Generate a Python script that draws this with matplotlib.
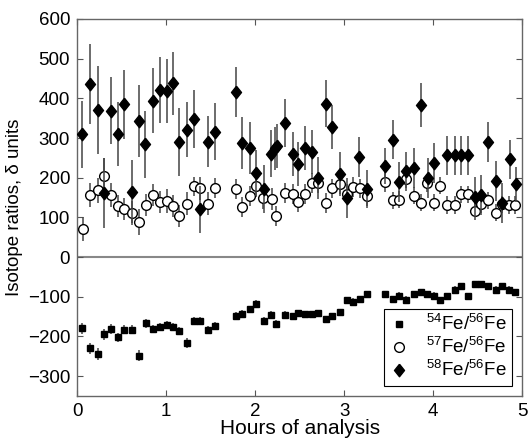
import matplotlib
matplotlib.use("Agg")
import matplotlib.pyplot as plt
import numpy as np

plt.rcParams['font.family'] = ['Liberation Sans', 'DejaVu Sans']
plt.rcParams['mathtext.fontset'] = 'custom'
plt.rcParams['mathtext.rm'] = 'Liberation Sans'
plt.rcParams['mathtext.default'] = 'regular'

# 58Fe/56Fe (filled diamonds)
x58 = [0.06, 0.14, 0.23, 0.30, 0.38, 0.46, 0.53, 0.62, 0.70, 0.76, 0.85, 0.93, 1.01, 1.08,
       1.15, 1.23, 1.31, 1.38, 1.47, 1.55, 1.78, 1.85, 1.94, 2.01, 2.10, 2.18, 2.22, 2.25,
       2.33, 2.42, 2.48, 2.56, 2.64, 2.71, 2.80, 2.86, 2.95, 3.03, 3.17, 3.26, 3.46, 3.55,
       3.62, 3.70, 3.78, 3.86, 3.94, 4.01, 4.16, 4.24, 4.31, 4.39, 4.47, 4.54, 4.62, 4.71,
       4.77, 4.86, 4.93]
y58 = [309, 436, 371, 162, 369, 310, 385, 165, 343, 284, 394, 421, 419, 438,
       290, 321, 348, 120, 291, 316, 416, 288, 275, 212, 172, 261, 274, 280,
       338, 259, 234, 275, 265, 199, 387, 328, 209, 149, 252, 172, 229, 296,
       189, 216, 225, 383, 200, 237, 256, 256, 256, 256, 151, 156, 290, 191,
       136, 246, 183]
e58 = [85, 100, 110, 88, 85, 80, 87, 80, 90, 85, 82, 83, 80, 80,
       85, 70, 72, 60, 65, 72, 62, 65, 65, 58, 60, 60, 55, 55,
       60, 55, 55, 55, 55, 52, 58, 55, 55, 50, 50, 48, 45, 50,
       50, 50, 50, 55, 50, 50, 50, 50, 50, 50, 50, 50, 50, 50,
       50, 50, 45]

# 57Fe/56Fe (open circles)
x57 = [0.07, 0.14, 0.23, 0.30, 0.38, 0.46, 0.53, 0.62, 0.70, 0.77, 0.85, 0.93, 1.01, 1.08,
       1.15, 1.23, 1.31, 1.38, 1.47, 1.55, 1.78, 1.85, 1.94, 2.01, 2.09, 2.19, 2.24, 2.33,
       2.42, 2.48, 2.56, 2.64, 2.71, 2.80, 2.86, 2.95, 3.03, 3.10, 3.18, 3.26, 3.46, 3.55,
       3.62, 3.70, 3.78, 3.86, 3.93, 4.01, 4.08, 4.16, 4.24, 4.31, 4.39, 4.47, 4.54, 4.62,
       4.71, 4.77, 4.85, 4.92]
y57 = [71, 156, 168, 205, 156, 128, 121, 112, 88, 131, 157, 138, 141, 128,
       103, 135, 178, 173, 135, 174, 172, 126, 154, 179, 150, 146, 103, 162,
       160, 138, 158, 187, 187, 137, 173, 183, 160, 177, 173, 154, 189, 143,
       145, 197, 155, 137, 187, 137, 180, 131, 131, 158, 158, 116, 133, 143,
       112, 133, 131, 131]
e57 = [30, 30, 32, 45, 30, 28, 28, 30, 32, 28, 28, 28, 30, 28,
       28, 28, 25, 28, 28, 25, 25, 25, 25, 28, 30, 28, 25, 25,
       25, 25, 25, 25, 25, 25, 25, 25, 25, 25, 25, 25, 25, 22,
       22, 22, 22, 22, 22, 22, 22, 22, 22, 22, 22, 22, 22, 22,
       22, 22, 22, 22]

# 54Fe/56Fe (filled squares)
x54 = [0.06, 0.14, 0.23, 0.30, 0.38, 0.46, 0.53, 0.62, 0.70, 0.77, 0.85, 0.93, 1.01, 1.08,
       1.15, 1.23, 1.31, 1.38, 1.47, 1.55, 1.78, 1.85, 1.94, 2.01, 2.10, 2.18, 2.24, 2.33,
       2.42, 2.48, 2.56, 2.64, 2.71, 2.80, 2.86, 2.95, 3.03, 3.10, 3.18, 3.26, 3.46, 3.55,
       3.62, 3.70, 3.78, 3.86, 3.93, 4.01, 4.08, 4.16, 4.24, 4.31, 4.39, 4.47, 4.54, 4.62,
       4.71, 4.77, 4.85, 4.92]
y54 = [-179, -230, -244, -194, -181, -202, -183, -183, -249, -167, -181, -175, -172, -175,
       -185, -216, -162, -162, -183, -174, -149, -143, -132, -119, -162, -147, -168, -145,
       -149, -141, -143, -143, -141, -157, -149, -139, -109, -112, -105, -94, -94, -105,
       -97, -107, -93, -88, -93, -97, -108, -99, -82, -73, -99, -67, -67, -72,
       -82, -72, -82, -88]
e54 = [14, 14, 14, 14, 12, 12, 12, 12, 14, 12, 10, 10, 10, 10,
       10, 12, 10, 10, 10, 10, 10, 10, 10, 10, 10, 10, 10, 10,
       8, 8, 8, 8, 8, 8, 8, 8, 8, 8, 8, 8, 8, 8,
       8, 8, 8, 8, 8, 8, 8, 8, 8, 8, 8, 8, 8, 8,
       8, 8, 8, 8]

# slightly tall diamond, like the original figure
diamond = [(0, 1), (0.8, 0), (0, -1), (-0.8, 0), (0, 1)]

fig = plt.figure(figsize=(5.28, 4.41), dpi=100)
ax = fig.add_axes([0.146, 0.102, 0.843, 0.855])

ax.axhline(0, color='#888888', lw=1.5, zorder=1)

ecol = '#444444'
sq = ax.errorbar(x54, y54, yerr=e54, fmt='s', color='black', ms=4.8, ecolor=ecol,
                 elinewidth=1.1, capsize=0, zorder=3)
ci = ax.errorbar(x57, y57, yerr=e57, fmt='o', mfc='white', mec='black', mew=1.0, ms=7,
                 ecolor=ecol, elinewidth=1.1, capsize=0, zorder=3)
ax.errorbar(x58, y58, yerr=e58, fmt='none', ecolor=ecol, elinewidth=1.1,
            capsize=0, zorder=4)
di, = ax.plot(x58, y58, ls='none', marker=diamond, color='black', ms=9, zorder=5)

ax.set_xlim(0, 5)
ax.set_ylim(-350, 600)
ax.set_xticks(range(0, 6))
ax.set_yticks(range(-300, 601, 100))
ax.tick_params(direction='in', top=True, right=True, length=4, labelsize=13.5,
               color='#555555', pad=5)
for s in ax.spines.values():
    s.set_color('#666666')
    s.set_linewidth(1.0)

ax.set_xlabel('Hours of analysis', fontsize=15, labelpad=-1)
ax.set_ylabel('Isotope ratios, δ units', fontsize=13.5, labelpad=3)

leg = ax.legend([sq.lines[0], ci.lines[0], di],
                [r'$^{54}$Fe/$^{56}$Fe', r'$^{57}$Fe/$^{56}$Fe', r'$^{58}$Fe/$^{56}$Fe'],
                loc='lower right', fontsize=13.5, fancybox=False,
                edgecolor='black', framealpha=1, handlelength=1.0,
                borderaxespad=0.55, handletextpad=0.9, labelspacing=0.15,
                borderpad=0.3)
leg.get_frame().set_linewidth(0.8)

fig.savefig('out.png', dpi=100)
